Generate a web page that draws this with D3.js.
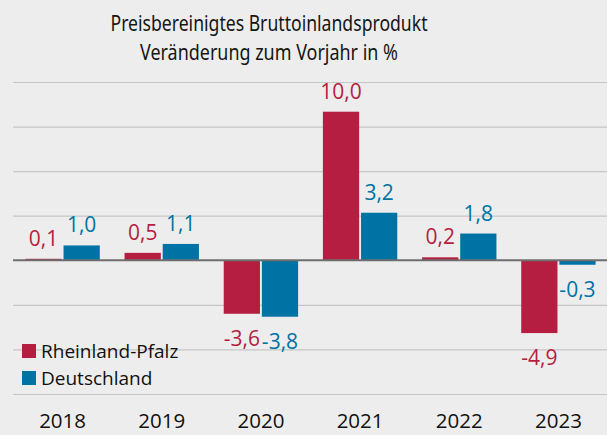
<!DOCTYPE html>
<html>
<head>
<meta charset="utf-8">
<script src="https://cdn.jsdelivr.net/npm/d3@7"></script>
<style>
  html, body { margin: 0; padding: 0; background: #ededed; }
  svg { display: block; }
</style>
</head>
<body>
<svg id="chart" width="607" height="435"></svg>
<script>
const years = ["2018", "2019", "2020", "2021", "2022", "2023"];
const seriesNames = ["Rheinland-Pfalz", "Deutschland"];
const rlp = [0.1, 0.5, -3.6, 10.0, 0.2, -4.9];
const de = [1.0, 1.1, -3.8, 3.2, 1.8, -0.3];
const gridTicks = [-9, -6, -3, 3, 6, 9, 12];
const titleLines = ["Preisbereinigtes Bruttoinlandsprodukt", "Veränderung zum Vorjahr in %"];
const colors = ["#b51e40", "#0073a5"];

const W = 607, H = 435;
const svg = d3.select("#chart");
svg.append("rect").attr("width", W).attr("height", H).attr("fill", "#ededed");

const x = d3.scaleBand().domain(years).range([13, 608]).paddingInner(0.25).paddingOuter(0.125);
const xs = d3.scaleBand().domain(seriesNames).range([0, x.bandwidth()]).paddingInner(0.05).paddingOuter(0);
const y = d3.scaleLinear().domain([-9, 12]).range([394, 82]);
const fmt = v => d3.format(".1f")(v).replace(".", ",").replace("−", "-");

// gridlines
const yAxis = d3.axisLeft(y).tickValues(gridTicks).tickSize(-(W - 13)).tickFormat("");
const ga = svg.append("g").attr("transform", `translate(13,0)`).call(yAxis);
ga.select(".domain").remove();
ga.selectAll(".tick line").attr("stroke", "#c6c6c6").attr("stroke-width", 1.2);

// title
svg.append("g").selectAll("text").data(titleLines).join("text")
  .attr("x", 269).attr("y", (d, i) => 31 + i * 29)
  .attr("text-anchor", "middle")
  .attr("font-family", "'Noto Sans', sans-serif")
  .attr("font-size", 22)
  .attr("fill", "#161616")
  .attr("textLength", (d, i) => i === 0 ? 317 : 258)
  .attr("lengthAdjust", "spacingAndGlyphs")
  .text(d => d);

const data = years.map((yr, i) => ({ year: yr, values: [rlp[i], de[i]] }));
const groups = svg.append("g").selectAll("g").data(data).join("g")
  .attr("transform", d => `translate(${x(d.year)},0)`);

groups.selectAll("rect").data(d => d.values.map((v, j) => ({ v, s: seriesNames[j], j })))
  .join("rect")
  .attr("x", d => xs(d.s))
  .attr("width", xs.bandwidth())
  .attr("y", d => y(Math.max(0, d.v)))
  .attr("height", d => Math.abs(y(d.v) - y(0)))
  .attr("fill", d => colors[d.j]);

groups.selectAll("text").data(d => d.values.map((v, j) => ({ v, s: seriesNames[j], j })))
  .join("text")
  .attr("x", d => xs(d.s) + xs.bandwidth() / 2)
  .attr("y", d => d.v >= 0 ? y(d.v) - 13 : y(d.v) + 32)
  .attr("text-anchor", "middle")
  .attr("font-family", "'Open Sans', sans-serif")
  .attr("font-size", 21)
  .attr("fill", d => colors[d.j])
  .text(d => fmt(d.v));

// zero line
svg.append("line").attr("x1", 13).attr("x2", W).attr("y1", y(0)).attr("y2", y(0))
  .attr("stroke", "#6e6e6e").attr("stroke-width", 2);

// x axis labels
const xAxis = d3.axisBottom(x).tickSize(0).tickPadding(0);
const gx = svg.append("g").attr("transform", "translate(0,413)").call(xAxis);
gx.select(".domain").remove();
gx.selectAll("text").attr("font-family", "'Open Sans', sans-serif").attr("font-size", 20.5)
  .attr("fill", "#111").attr("dy", "0.71em");

// legend
const leg = svg.append("g").selectAll("g").data(seriesNames).join("g")
  .attr("transform", (d, i) => `translate(22,${344 + i * 27})`);
leg.append("rect").attr("width", 14).attr("height", 14).attr("fill", (d, i) => colors[i]);
leg.append("text").attr("x", 19).attr("y", 14)
  .attr("font-family", "'Open Sans', sans-serif").attr("font-size", 19)
  .attr("fill", "#111").text(d => d);
</script>
</body>
</html>
